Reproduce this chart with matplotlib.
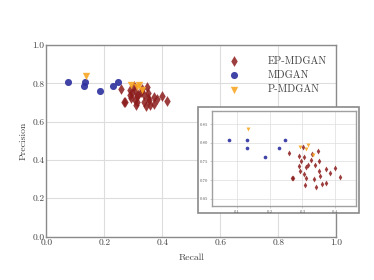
import matplotlib
matplotlib.use("Agg")
import matplotlib.pyplot as plt
from matplotlib.patches import Rectangle

plt.rcParams["font.family"] = ["cmr10", "DejaVu Serif"]
plt.rcParams["axes.formatter.use_mathtext"] = True

# recall / precision pairs
ep_recall = [0.259, 0.289, 0.302, 0.330, 0.347, 0.306, 0.296, 0.326, 0.351, 0.289,
             0.316, 0.311, 0.337, 0.372, 0.399, 0.291, 0.305, 0.349, 0.383, 0.272,
             0.268, 0.311, 0.336, 0.354, 0.415, 0.372, 0.359, 0.308, 0.342]
ep_precision = [0.773, 0.766, 0.788, 0.770, 0.779, 0.763, 0.752, 0.754, 0.752, 0.738,
                0.741, 0.734, 0.740, 0.731, 0.733, 0.725, 0.715, 0.725, 0.718, 0.705,
                0.705, 0.705, 0.702, 0.712, 0.708, 0.693, 0.689, 0.687, 0.681]
md_recall = [0.0755, 0.1327, 0.1306, 0.1867, 0.2286, 0.246]
md_precision = [0.807, 0.809, 0.7875, 0.7625, 0.7875, 0.809]
p_recall = [0.135, 0.293, 0.318, 0.312, 0.331]
p_precision = [0.838, 0.789, 0.793, 0.783, 0.768]

RED = "#8c1c1c"
BLUE = "#2c2f9e"
ORANGE = "#f9a825"
SPINE = "#8a8a8a"
GRID = "#dddddd"

fig = plt.figure(figsize=(3.74, 2.8), dpi=100)
ax = fig.add_axes([0.124, 0.155, 0.775, 0.684])

ax.scatter(ep_recall, ep_precision, marker="d", s=30, color=RED, alpha=0.85,
           linewidths=0, label="EP-MDGAN", zorder=3)
ax.scatter(md_recall, md_precision, marker="o", s=26, color=BLUE, alpha=0.9,
           linewidths=0, label="MDGAN", zorder=3)
ax.scatter(p_recall, p_precision, marker="v", s=28, color=ORANGE, alpha=0.9,
           linewidths=0, label="P-MDGAN", zorder=4)

ax.set_xlim(0, 1)
ax.set_ylim(0, 1)
ax.set_xticks([0, 0.2, 0.4, 0.6, 0.8, 1.0])
ax.set_yticks([0, 0.2, 0.4, 0.6, 0.8, 1.0])
ax.xaxis.set_major_formatter(matplotlib.ticker.FormatStrFormatter("%.1f"))
ax.yaxis.set_major_formatter(matplotlib.ticker.FormatStrFormatter("%.1f"))
ax.tick_params(length=0, pad=1.5, labelsize=6.8, labelcolor="#444444")
ax.grid(True, color=GRID, linewidth=0.8)
ax.set_axisbelow(True)
for sp in ax.spines.values():
    sp.set_color(SPINE)
    sp.set_linewidth(1.0)
ax.set_xlabel("Recall", fontsize=7, color="#444444", labelpad=5)
ax.set_ylabel("Precision", fontsize=7, color="#444444", labelpad=3)

ax.legend(loc="upper right", bbox_to_anchor=(1.0, 0.99), frameon=False,
          fontsize=7.5, handletextpad=2.2, labelspacing=0.45, labelcolor="#444444")

# zoomed-in inset with a grey frame behind it
fig.patches.append(Rectangle((0.529, 0.239), 0.430, 0.379, transform=fig.transFigure,
                             facecolor="white", edgecolor=SPINE, linewidth=1.2, zorder=5))
ins = fig.add_axes([0.567, 0.264, 0.385, 0.340], zorder=6)
ins.scatter(ep_recall, ep_precision, marker="d", s=9, color=RED, alpha=0.85, linewidths=0)
ins.scatter(md_recall, md_precision, marker="o", s=7, color=BLUE, alpha=0.9, linewidths=0)
ins.scatter(p_recall, p_precision, marker="v", s=8, color=ORANGE, alpha=0.9, linewidths=0)
ins.set_xlim(0.025, 0.463)
ins.set_ylim(0.63, 0.886)
ins.set_xticks([0.1, 0.2, 0.3, 0.4])
ins.set_yticks([0.65, 0.70, 0.75, 0.80, 0.85])
ins.xaxis.set_major_formatter(matplotlib.ticker.FormatStrFormatter("%.1f"))
ins.yaxis.set_major_formatter(matplotlib.ticker.FormatStrFormatter("%.2f"))
ins.tick_params(length=1.5, width=0.4, pad=1, labelsize=3.4, labelcolor="#555555", color="#aaaaaa")
ins.grid(True, color=GRID, linewidth=0.5)
ins.set_axisbelow(True)
for sp in ins.spines.values():
    sp.set_color("#a0a0a0")
    sp.set_linewidth(1.0)

fig.savefig("out.png", dpi=100)
